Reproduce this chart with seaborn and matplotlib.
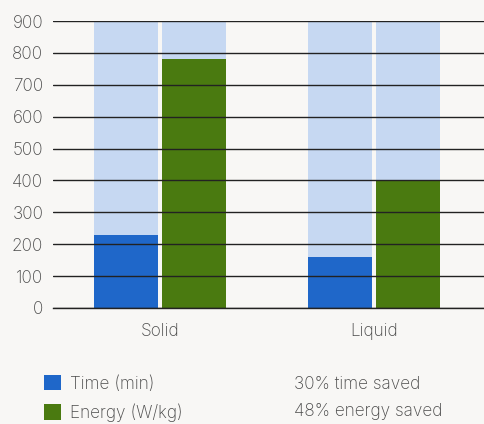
import matplotlib.pyplot as plt
import seaborn as sns
import pandas as pd
from matplotlib.patches import Patch

# data
categories = ['Solid', 'Liquid']
series = ['Time (min)', 'Energy (W/kg)']
time_values = [230, 160]
energy_values = [780, 400]
track_max = 900
savings = ['30% time saved', '48% energy saved']
y_ticks = list(range(0, 1000, 100))

BG = '#f8f7f5'
TRACK = '#c6d8f2'
COLORS = ['#1f67c9', '#4a7a10']
TEXT = '#4a4a4a'
FS = 12.4


def set_style():
    sns.set_theme(style='white')
    plt.rcParams['font.family'] = ['Inter', 'DejaVu Sans']
    plt.rcParams['font.size'] = FS
    plt.rcParams['font.weight'] = 'light'


set_style()

df = pd.DataFrame({
    'category': categories * 2,
    'series': [series[0]] * 2 + [series[1]] * 2,
    'value': time_values + energy_values,
})
df['track'] = track_max

fig = plt.figure(figsize=(4.85, 4.24), dpi=100, facecolor=BG)
ax = fig.add_axes([53 / 485, 116 / 424, 1 - 53 / 485, 287 / 424])
ax.set_facecolor(BG)

# background tracks then the actual values
sns.barplot(data=df, x='category', y='track', hue='series', order=categories,
            hue_order=series, palette=[TRACK, TRACK], width=0.636, gap=0.06,
            saturation=1, legend=False, linewidth=0, ax=ax, zorder=1)
sns.barplot(data=df, x='category', y='value', hue='series', order=categories,
            hue_order=series, palette=COLORS, width=0.636, gap=0.06,
            saturation=1, legend=False, linewidth=0, ax=ax, zorder=1.5)

ax.set_xlim(-0.5, 1.519)
ax.set_ylim(0, track_max)
ax.set_yticks(y_ticks)
ax.yaxis.grid(True, color='#222222', linewidth=1)
ax.set_axisbelow(False)
for name, s in ax.spines.items():
    s.set_visible(name == 'bottom')
ax.spines['bottom'].set_color('#222222')
ax.spines['bottom'].set_linewidth(1)
ax.spines['bottom'].set_zorder(3)
ax.set_xlabel('')
ax.set_ylabel('')
ax.tick_params(axis='y', length=0, pad=7, labelsize=FS, labelcolor=TEXT)
ax.tick_params(axis='x', length=0, pad=11, labelsize=FS, labelcolor=TEXT)

handles = [Patch(facecolor=c, edgecolor='none') for c in COLORS]
fig.legend(handles, series, loc='upper left', bbox_to_anchor=(44 / 485, 1 - 375 / 424),
           frameon=False, borderpad=0, borderaxespad=0, handlelength=1.0,
           handleheight=1.0, handletextpad=0.5, labelspacing=0.62,
           fontsize=FS, labelcolor=TEXT)
for i, txt in enumerate(savings):
    fig.text(294 / 485, 1 - (384 + 28 * i) / 424, txt, ha='left', va='center',
             fontsize=FS, color=TEXT)

plt.savefig('out.png', dpi=100, facecolor=BG)
plt.close()
